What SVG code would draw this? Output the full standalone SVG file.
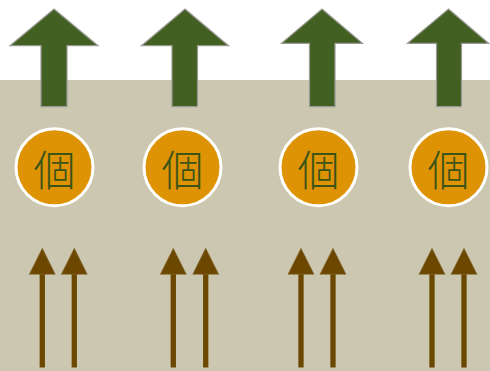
<svg xmlns="http://www.w3.org/2000/svg" width="490" height="371" viewBox="0 0 490 371">
<defs>
<style>
.big{fill:#436023;stroke:#9a9a94;stroke-width:1.2}
.node circle{fill:#DD9304;stroke:#ffffff;stroke-width:3}
.node text{font-family:"Noto Sans CJK JP","Noto Sans CJK SC",sans-serif;font-size:42px;font-weight:300;fill:#3d5419;text-anchor:middle;dominant-baseline:central}
.conn line{stroke:#6B4700;stroke-width:5.3}
.conn polygon{fill:#6B4700;stroke:#8a6a30;stroke-width:0.6}
</style>
</defs>
<rect x="0" y="0" width="490" height="371" fill="#ffffff"/>
<rect x="0" y="80" width="490" height="291" fill="#CBC7B1"/>
<g id="out-arrows">
<polygon class="big" points="54,9 98,45.7 67,45.7 67,106.7 41,106.7 41,45.7 10,45.7"/>
<polygon class="big" points="185,9 228.5,45.7 197.5,45.7 197.5,106.7 172,106.7 172,45.7 141.5,45.7"/>
<polygon class="big" points="322,9 362.5,43.3 335,43.3 335,106.7 309.5,106.7 309.5,43.3 281.5,43.3"/>
<polygon class="big" points="448.5,9 488.5,43.3 461.5,43.3 461.5,106.7 436.5,106.7 436.5,43.3 407.5,43.3"/>
</g>
<g id="node1" class="node"><circle cx="54.5" cy="167.3" r="38.5"/><text x="54.5" y="167.3">個</text></g>
<g id="node2" class="node"><circle cx="182.5" cy="167.3" r="38.5"/><text x="182.5" y="167.3">個</text></g>
<g id="node3" class="node"><circle cx="318.5" cy="167.3" r="38.5"/><text x="318.5" y="167.3">個</text></g>
<g id="node4" class="node"><circle cx="448.5" cy="167.3" r="38.5"/><text x="448.5" y="167.3">個</text></g>
<g id="connectors" class="conn">
<line x1="42.3" y1="367.5" x2="42.3" y2="272"/><polygon points="42.3,248.3 55.3,274.3 29.3,274.3"/>
<line x1="74.3" y1="367.5" x2="74.3" y2="272"/><polygon points="74.3,248.3 87.3,274.3 61.3,274.3"/>
<line x1="173.3" y1="367.5" x2="173.3" y2="272"/><polygon points="173.3,248.3 186.3,274.3 160.3,274.3"/>
<line x1="205.7" y1="367.5" x2="205.7" y2="272"/><polygon points="205.7,248.3 218.7,274.3 192.7,274.3"/>
<line x1="301" y1="367.5" x2="301" y2="272"/><polygon points="301,248.3 314,274.3 288,274.3"/>
<line x1="333" y1="367.5" x2="333" y2="272"/><polygon points="333,248.3 346,274.3 320,274.3"/>
<line x1="432" y1="367.5" x2="432" y2="272"/><polygon points="432,248.3 445,274.3 419,274.3"/>
<line x1="464" y1="367.5" x2="464" y2="272"/><polygon points="464,248.3 477,274.3 451,274.3"/>
</g>
</svg>
